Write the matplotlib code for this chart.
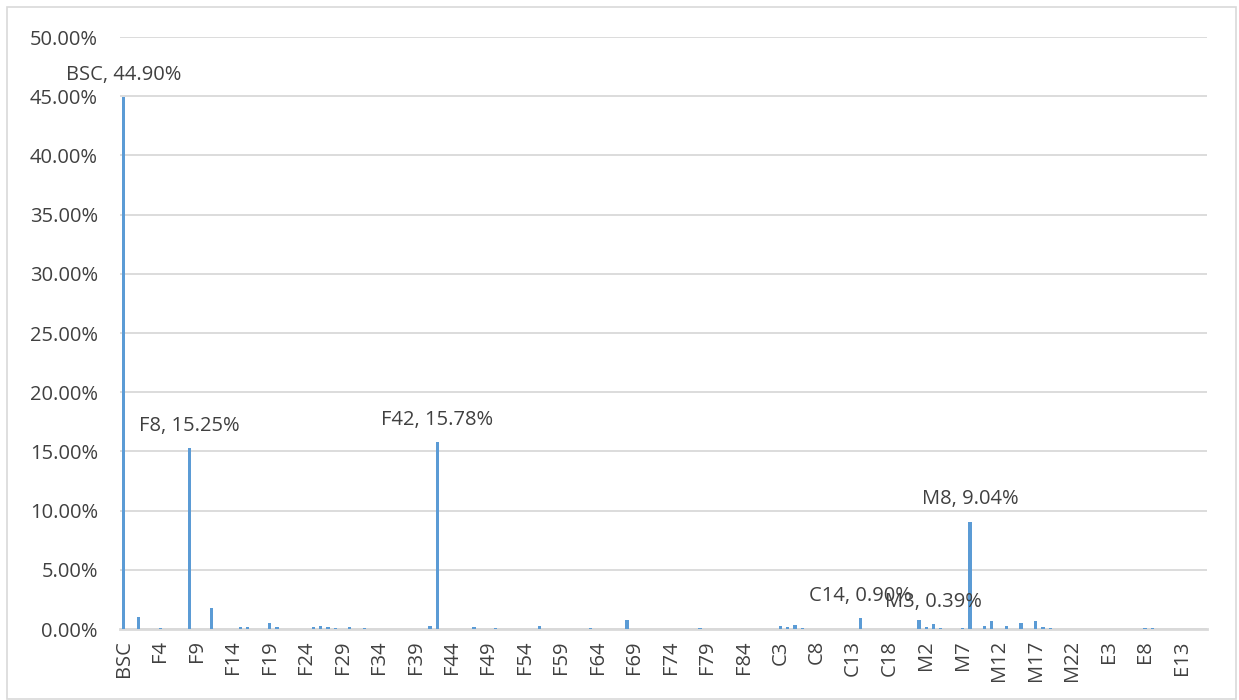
import matplotlib.pyplot as plt
from matplotlib.patches import Rectangle
from matplotlib.ticker import PercentFormatter

# share of each category, in percent
bsc_values = [44.90]
f_values = [
    0, 1.0, 0.03, 0, 0.05, 0.03, 0, 0, 15.25, 0,        # F0-F9
    0, 1.8, 0, 0, 0, 0.14, 0.2, 0, 0, 0.5,               # F10-F19
    0.15, 0, 0, 0, 0, 0.17, 0.27, 0.17, 0.08, 0,         # F20-F29
    0.17, 0.03, 0.1, 0, 0, 0, 0, 0, 0, 0,                # F30-F39
    0, 0.23, 15.78, 0, 0, 0, 0, 0.15, 0, 0,              # F40-F49
    0.1, 0, 0.03, 0, 0, 0, 0.22, 0.03, 0, 0,             # F50-F59
    0, 0, 0, 0.1, 0, 0, 0, 0, 0.73, 0,                   # F60-F69
    0.03, 0.03, 0, 0, 0, 0, 0, 0, 0.1, 0,                # F70-F79
    0, 0, 0, 0, 0, 0, 0,                                 # F80-F86
]
c_values = [0, 0, 0.28, 0.14, 0.34, 0.1, 0, 0, 0, 0,
            0, 0, 0, 0.9, 0, 0, 0, 0, 0, 0, 0]
m_values = [0.76, 0.2, 0.39, 0.1, 0, 0, 0.1, 9.04, 0, 0.22,
            0.65, 0, 0.25, 0, 0.48, 0, 0.67, 0.17, 0.08, 0,
            0, 0, 0, 0]
e_values = [0, 0, 0, 0, 0, 0, 0, 0.1, 0.1, 0.03,
            0, 0, 0, 0, 0, 0]

labelled = ["BSC", "F8", "F42", "C14", "M3", "M8"]

names = (["BSC"]
         + ["F%d" % i for i in range(len(f_values))]
         + ["C%d" % (i + 1) for i in range(len(c_values))]
         + ["M%d" % (i + 1) for i in range(len(m_values))]
         + ["E%d" % (i + 1) for i in range(len(e_values))])
values = bsc_values + f_values + c_values + m_values + e_values
xs = list(range(len(names)))

plt.rcParams['font.family'] = ['Open Sans', 'DejaVu Sans']
txt = '#404040'

fig = plt.figure(figsize=(12.39, 7.0), dpi=100)
ax = fig.add_axes([0.0969, 0.1014, 0.8773, 0.8457])

ax.bar(xs, values, width=0.45, color='#5B9BD5', zorder=3)

for x, name, v in zip(xs, names, values):
    if name in labelled:
        ax.annotate("%s, %.2f%%" % (name, v), (x, v), xytext=(0, 9),
                    textcoords='offset points', ha='center', va='bottom',
                    fontsize=14.5, color=txt, zorder=4)

ax.set_xlim(-0.5, len(names) - 0.5)
ax.set_ylim(0, 50)
ax.set_yticks(range(0, 51, 5))
ax.yaxis.set_major_formatter(PercentFormatter(decimals=2))
ax.set_xticks(xs[::5])
ax.set_xticklabels(names[::5], rotation=90)
ax.tick_params(axis='both', length=0, labelsize=14.5, colors=txt)
ax.tick_params(axis='x', pad=8)
ax.tick_params(axis='y', pad=16)

ax.grid(axis='y', color='#D9D9D9', linewidth=1.3, zorder=0)
for s in ['top', 'right', 'left']:
    ax.spines[s].set_visible(False)
ax.spines['bottom'].set_color('#D9D9D9')
ax.spines['bottom'].set_linewidth(2)
ax.spines['bottom'].set_zorder(2)

fig.patches.append(Rectangle((7 / 1239, 0.002), 1229 / 1239, 1 - 7 / 700 - 0.002,
                             transform=fig.transFigure, fill=False,
                             edgecolor='#D9D9D9', linewidth=1.2))

plt.savefig("out.png")
